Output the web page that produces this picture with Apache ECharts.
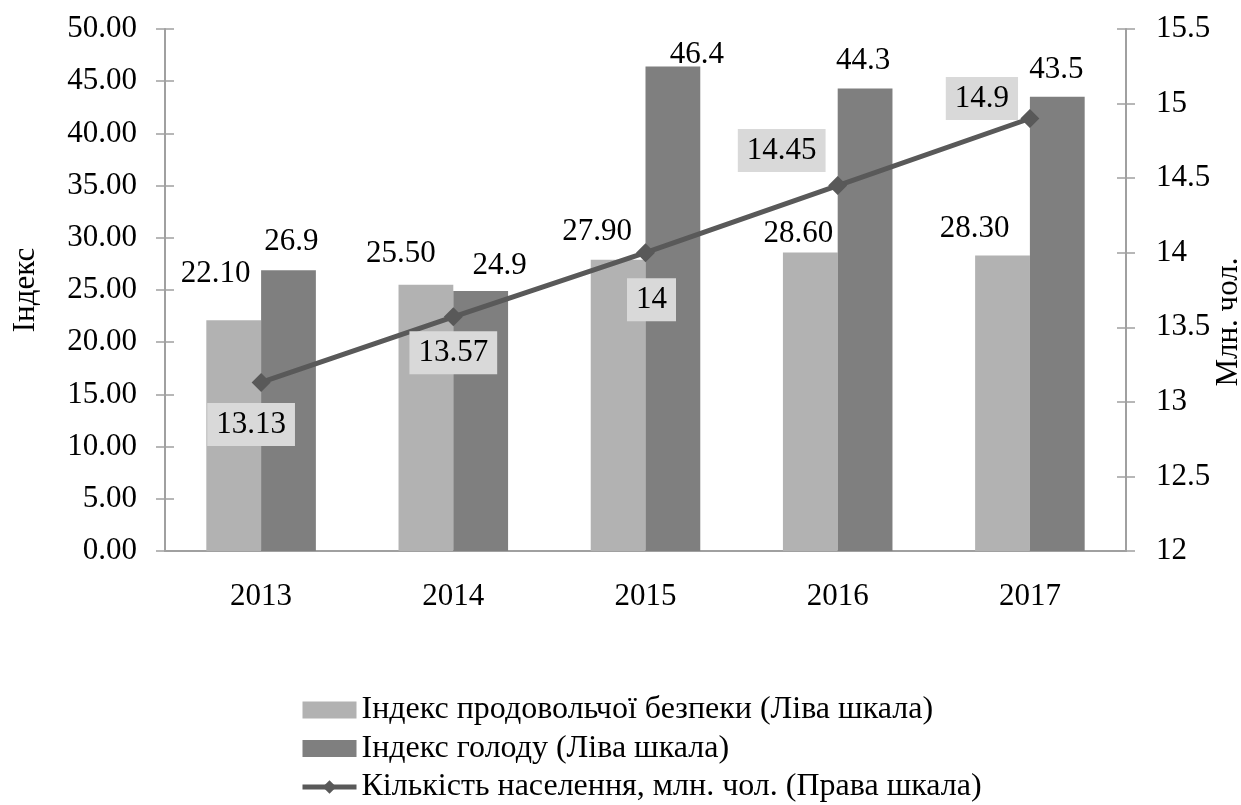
<!DOCTYPE html>
<html>
<head>
<meta charset="utf-8">
<script src="https://cdn.jsdelivr.net/npm/echarts@6/dist/echarts.min.js"></script>
<style>
  html, body { margin: 0; padding: 0; background: #fff; }
  #myChart { width: 1241px; height: 805px; }
</style>
</head>
<body>
<div id="myChart"></div>
<script>
// дані
const years = ["2013", "2014", "2015", "2016", "2017"];
const foodSecurity = [22.1, 25.5, 27.9, 28.6, 28.3];
const hungerIndex = [26.9, 24.9, 46.4, 44.3, 43.5];
const population = [13.13, 13.57, 14, 14.45, 14.9];
const leftTicks = { min: 0, max: 50, interval: 5 };
const rightTicks = { min: 12, max: 15.5, interval: 0.5 };

// ручне розміщення підписів (як у Excel)
const nudgeFood = [[-18, -26], [-25, -10], [-21, -7], [-12, 2], [-28, -6]];
const nudgeHunger = [[3, -8], [19, -5], [24, 9], [-2, -7], [-1, -7]];
const nudgePop = [[-10, 42], [0, 36], [6, 47], [-56, -35], [-48, -20]];

const FONT = "'Liberation Serif', 'Times New Roman', serif";
const axisGray = "#a0a0a0";

function withNudge(values, nudge) {
  return values.map((v, i) => ({ value: v, label: { offset: nudge[i] } }));
}

const option = {
  animation: false,
  textStyle: { fontFamily: FONT, color: "#000" },
  legend: {
    orient: "vertical",
    left: 300,
    top: 694,
    padding: 0,
    itemGap: 6.5,
    itemWidth: 54,
    itemHeight: 17,
    textStyle: { fontFamily: FONT, fontSize: 32, color: "#000" },
    data: [
      { name: "Індекс продовольчої безпеки (Ліва шкала)", icon: "rect" },
      { name: "Індекс голоду (Ліва шкала)", icon: "rect" },
      { name: "Кількість населення, млн. чол. (Права шкала)", lineStyle: { width: 5 } },
    ],
  },
  grid: { left: 165, right: 115, top: 29, bottom: 254, outerBoundsMode: "none" },
  xAxis: [
    {
      type: "category",
      data: years,
      axisLine: { lineStyle: { color: axisGray, width: 2 } },
      axisTick: { length: 9, lineStyle: { color: axisGray, width: 1.5 } },
      axisLabel: { fontFamily: FONT, fontSize: 31, color: "#000", margin: 30 },
    },
    {
      type: "category",
      data: years,
      position: "bottom",
      axisLine: { show: false },
      axisTick: { inside: true, length: 9, lineStyle: { color: axisGray, width: 1.5 } },
      axisLabel: { show: false },
    },
  ],
  yAxis: [
    {
      type: "value",
      position: "left",
      ...leftTicks,
      name: "Індекс",
      nameLocation: "middle",
      nameGap: 124,
      nameTextStyle: { fontFamily: FONT, fontSize: 31, color: "#000" },
      axisLine: { show: true, lineStyle: { color: axisGray, width: 2 } },
      axisTick: { show: true, length: 9, lineStyle: { color: axisGray, width: 1.5 } },
      axisLabel: {
        fontFamily: FONT, fontSize: 31, color: "#000", margin: 28,
        formatter: (v) => v.toFixed(2),
      },
      splitLine: { show: false },
    },
    {
      type: "value",
      position: "right",
      ...rightTicks,
      name: "Млн. чол.",
      nameLocation: "middle",
      nameGap: 87,
      nameMoveOverlap: false,
      nameTextStyle: { fontFamily: FONT, fontSize: 31, color: "#000", padding: [0, 64, 0, 0] },
      axisLine: { show: true, lineStyle: { color: axisGray, width: 2 } },
      axisTick: { show: true, length: 9, lineStyle: { color: axisGray, width: 1.5 } },
      axisLabel: { fontFamily: FONT, fontSize: 31, color: "#000", margin: 30 },
      splitLine: { show: false },
    },
    {
      type: "value",
      position: "left",
      ...leftTicks,
      axisLine: { show: false },
      axisTick: { show: true, inside: true, length: 9, lineStyle: { color: axisGray, width: 1.5 } },
      axisLabel: { show: false },
      splitLine: { show: false },
    },
    {
      type: "value",
      position: "right",
      ...rightTicks,
      axisLine: { show: false },
      axisTick: { show: true, inside: true, length: 9, lineStyle: { color: axisGray, width: 1.5 } },
      axisLabel: { show: false },
      splitLine: { show: false },
    },
  ],
  series: [
    {
      name: "Індекс продовольчої безпеки (Ліва шкала)",
      type: "bar",
      yAxisIndex: 0,
      barGap: "0%",
      barCategoryGap: "43%",
      itemStyle: { color: "#b2b2b2" },
      label: {
        show: true, position: "top", distance: 5,
        fontFamily: FONT, fontSize: 31, color: "#000",
        formatter: (p) => p.value.toFixed(2),
      },
      data: withNudge(foodSecurity, nudgeFood),
    },
    {
      name: "Індекс голоду (Ліва шкала)",
      type: "bar",
      yAxisIndex: 0,
      itemStyle: { color: "#7f7f7f" },
      label: {
        show: true, position: "top", distance: 5,
        fontFamily: FONT, fontSize: 31, color: "#000",
      },
      data: withNudge(hungerIndex, nudgeHunger),
    },
    {
      name: "Кількість населення, млн. чол. (Права шкала)",
      type: "line",
      yAxisIndex: 1,
      z: 5,
      symbol: "diamond",
      symbolSize: 19,
      lineStyle: { color: "#595959", width: 5 },
      itemStyle: { color: "#595959" },
      label: {
        show: true, position: "inside",
        fontFamily: FONT, fontSize: 31, color: "#000",
        backgroundColor: "#d9d9d9", padding: [6, 9],
      },
      data: withNudge(population, nudgePop),
    },
  ],
};

const chart = echarts.init(document.getElementById("myChart"));
chart.setOption(option);
</script>
</body>
</html>
